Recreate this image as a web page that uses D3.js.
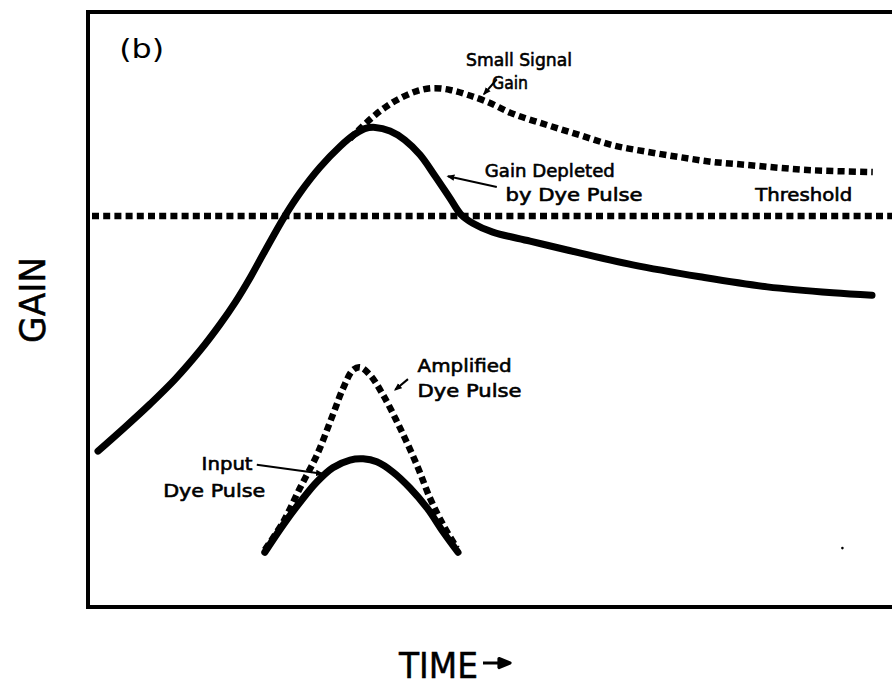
<!DOCTYPE html>
<html>
<head>
<meta charset="utf-8">
<script src="https://cdn.jsdelivr.net/npm/d3@7/dist/d3.min.js"></script>
<style>
  html, body { margin: 0; padding: 0; background: #fff; }
  svg { display: block; }
  text { font-family: "DejaVu Sans", "Liberation Sans", sans-serif; fill: #000; }
</style>
</head>
<body>
<svg id="chart" width="892" height="688"></svg>
<script>
// Time (arbitrary units, 0-100) and gain (arbitrary units, 0-100)

// Gain depleted by the dye pulse (solid)
const depletedTime = [1.25, 4.6, 7.75, 10.9, 14.0, 16.5, 18.4, 20.25, 22.1, 24.6, 26.5, 29.0, 31.5, 33.4, 34.6, 35.9, 37.75, 39.6, 41.5, 43.4, 45.25, 46.6, 48.1, 50.6, 55.25, 59.9, 68.1, 76.5, 84.9, 93.1, 98.0];
const depletedGain = [26.2, 30.2, 34.1, 38.3, 43.1, 47.5, 51.2, 55.3, 59.8, 65.7, 69.6, 73.9, 77.4, 79.5, 80.4, 80.6, 80.0, 78.5, 76.0, 72.4, 68.7, 66.0, 64.5, 63.0, 61.5, 60.0, 57.5, 55.5, 53.8, 52.8, 52.4];

// Small-signal gain (dotted), from where it leaves the depleted curve
const smallSignalTime = [32.75, 34.25, 35.9, 37.4, 39.0, 41.1, 43.1, 45.25, 47.4, 49.9, 53.1, 57.4, 61.5, 65.6, 69.9, 74.0, 78.1, 82.4, 86.5, 90.6, 98.1];
const smallSignalGain = [78.7, 80.7, 82.7, 84.2, 85.5, 86.7, 87.2, 86.9, 86.1, 84.9, 82.9, 81.0, 79.3, 77.6, 76.5, 75.6, 74.8, 74.3, 73.8, 73.4, 73.1];

// Lasing threshold (dotted horizontal)
const thresholdGain = 65.7;
const thresholdSpan = [0.5, 100.5];

// Amplified dye pulse (dotted)
const amplifiedTime = [22.1, 24.4, 26.5, 28.6, 30.6, 31.9, 33.1, 34.0, 35.25, 36.9, 39.0, 41.1, 42.75, 44.4, 46.1];
const amplifiedGain = [9.6, 14.3, 20.0, 25.5, 32.3, 36.8, 39.8, 40.3, 39.0, 35.6, 30.1, 23.9, 18.3, 13.8, 9.9];

// Input dye pulse (solid)
const inputTime = [22.1, 24.4, 26.5, 28.6, 30.6, 32.75, 34.4, 36.1, 38.1, 40.25, 42.4, 44.4, 46.25];
const inputGain = [9.2, 13.8, 17.6, 21.0, 23.4, 24.7, 24.9, 24.4, 22.7, 20.0, 16.6, 12.6, 9.2];

// Curve labels: text lines and their left/baseline anchor in data units
const labelText = ["(b)", "Small Signal", "Gain", "Gain Depleted", "by Dye Pulse", "Threshold", "Amplified", "Dye Pulse", "Input", "Dye Pulse"];
const labelTime = [3.9, 47.25, 50.5, 49.6, 52.2, 83.4, 41.2, 41.2, 14.2, 9.4];
const labelGain = [92.3, 90.9, 87.1, 72.3, 68.2, 68.2, 39.5, 35.3, 23.0, 18.5];

// Leader lines from labels to curves: [t0, g0, t1, g1] (arrowhead at the second point)
const leaders = [
  [51.1, 88.7, 49.5, 86.2],
  [51.1, 70.6, 45.0, 72.4],
  [40.0, 38.3, 38.4, 36.5],
  [21.1, 23.9, 29.3, 22.4]
];

const axisTitles = { y: "GAIN", x: "TIME" };

// Lettering widths (px) for the hand-lettered labels
const labelWidth = [45, 106, 36, 130, 137, 97, 94, 104, 51, 102];

const svg = d3.select("#chart");
const frame = { left: 88, top: 12, right: 888, bottom: 607 };

const x = d3.scaleLinear().domain([0, 100]).range([frame.left, frame.right]);
const y = d3.scaleLinear().domain([0, 100]).range([frame.bottom, frame.top]);

// Plot frame: open on the right-hand side (runs off the page)
svg.append("path")
  .attr("d", `M${frame.left - 2},${frame.top} H 900 M${frame.left},${frame.top} V ${frame.bottom + 2} M${frame.left - 2},${frame.bottom} H 900`)
  .attr("fill", "none").attr("stroke", "#000").attr("stroke-width", 4);

const line = d3.line()
  .x(d => x(d[0]))
  .y(d => y(d[1]))
  .curve(d3.curveCatmullRom.alpha(0.5));

const zip = (a, b) => a.map((v, i) => [v, b[i]]);

function drawCurve(pts, solid) {
  const p = svg.append("path")
    .attr("d", line(pts))
    .attr("fill", "none")
    .attr("stroke", "#000");
  if (solid) {
    p.attr("stroke-width", 7).attr("stroke-linecap", "round").attr("stroke-linejoin", "round");
  } else {
    p.attr("stroke-width", 6.5).attr("stroke-dasharray", "7,4.2");
  }
  return p;
}

// Threshold
drawCurve(thresholdSpan.map(t => [t, thresholdGain]), false);
// Small signal gain
drawCurve(zip(smallSignalTime, smallSignalGain), false);
// Depleted gain
drawCurve(zip(depletedTime, depletedGain), true);
// Amplified dye pulse
drawCurve(zip(amplifiedTime, amplifiedGain), false);
// Input dye pulse
drawCurve(zip(inputTime, inputGain), true);

// Labels
svg.append("g").selectAll("text")
  .data(labelText)
  .join("text")
  .attr("x", (d, i) => x(labelTime[i]))
  .attr("y", (d, i) => y(labelGain[i]))
  .attr("font-size", (d, i) => i === 0 ? 26 : 18)
  .attr("stroke", "#000")
  .attr("stroke-width", (d, i) => i === 0 ? 0 : 0.6)
  .attr("textLength", (d, i) => labelWidth[i])
  .attr("lengthAdjust", "spacingAndGlyphs")
  .text(d => d);

// Leader lines with small arrowheads
svg.append("defs").append("marker")
  .attr("id", "head")
  .attr("viewBox", "0 0 10 10")
  .attr("refX", 8).attr("refY", 5)
  .attr("markerWidth", 4).attr("markerHeight", 4)
  .attr("orient", "auto")
  .append("path").attr("d", "M0,1 L10,5 L0,9 Z").attr("fill", "#000");

svg.append("g").selectAll("line")
  .data(leaders)
  .join("line")
  .attr("x1", d => x(d[0])).attr("y1", d => y(d[1]))
  .attr("x2", d => x(d[2])).attr("y2", d => y(d[3]))
  .attr("stroke", "#000").attr("stroke-width", 2)
  .attr("marker-end", "url(#head)");

// Speck near the lower right
svg.append("circle").attr("cx", x(94.3)).attr("cy", y(9.9)).attr("r", 1.3).attr("fill", "#000");

// Axis titles
svg.append("text")
  .attr("transform", "translate(45,300) rotate(-90)")
  .attr("text-anchor", "middle")
  .attr("font-size", 36)
  .attr("stroke", "#000").attr("stroke-width", 0.5)
  .attr("textLength", 86)
  .attr("lengthAdjust", "spacingAndGlyphs")
  .text(axisTitles.y);

svg.append("text")
  .attr("x", 399).attr("y", 678)
  .attr("font-size", 35)
  .attr("stroke", "#000").attr("stroke-width", 0.5)
  .attr("textLength", 79)
  .attr("lengthAdjust", "spacingAndGlyphs")
  .text(axisTitles.x);

// Arrow after TIME
svg.append("path")
  .attr("d", "M483,663 H500 M499,658.5 L510,663 L499,667.5 Z")
  .attr("stroke", "#000").attr("stroke-width", 3.2)
  .attr("stroke-linejoin", "round")
  .attr("fill", "#000");
</script>
</body>
</html>
